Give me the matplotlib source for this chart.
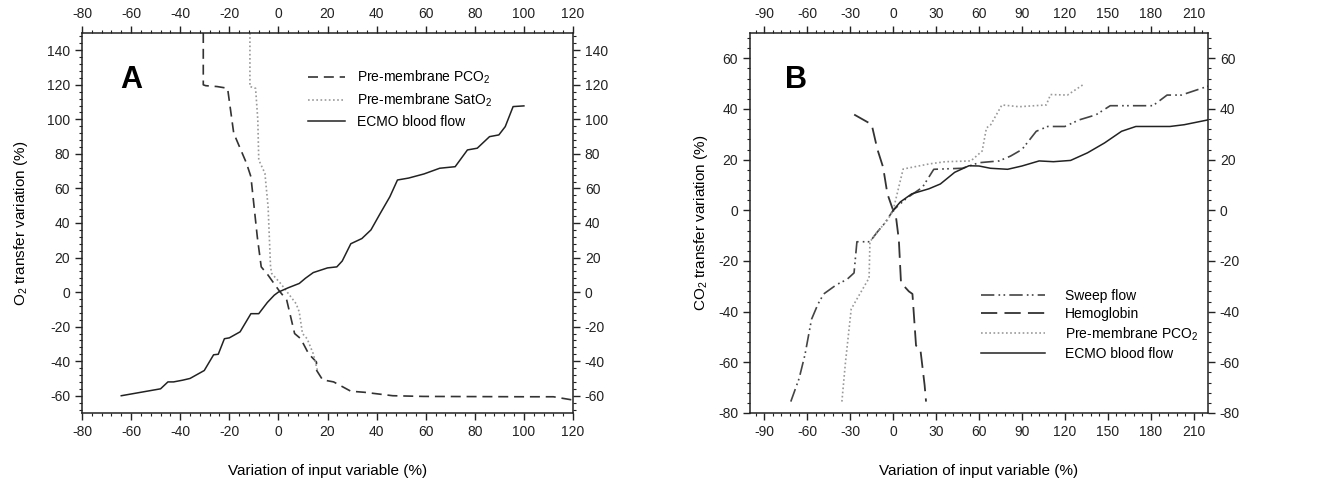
import numpy as np
import matplotlib
matplotlib.use("Agg")
import matplotlib.pyplot as plt
from matplotlib.ticker import MultipleLocator

plt.rcParams['font.family'] = ['Liberation Sans', 'DejaVu Sans']
plt.rcParams['mathtext.default'] = 'regular'
plt.rcParams['axes.unicode_minus'] = False

# ---- panel A : O2 transfer ----
a_pco2_x = [-30.6, -30.6, -29.6, -25, -20.7, -18.2, -13, -11.2, -9.9, -8.6, -7, -4.2, 0.2, 3.4, 4.7,
            6.6, 9.1, 12.3, 15.5, 15.6, 18, 22.5, 29.5, 35, 46.6, 59, 100, 112, 120]
a_pco2_y = [150, 120, 119.5, 119, 118, 92, 74.6, 66.8, 49.4, 32, 14.6, 9.8, 1, -4.7, -12.5,
            -24, -27, -35.7, -40.5, -45.4, -50.8, -52, -57.4, -58, -60, -60.4, -60.6, -60.6, -62.5]

a_sat_x = [-11.6, -11.6, -9.3, -8.4, -8, -5.5, -4.2, -3.2, -2.7, 0.9, 7.2, 8.5, 9.8, 11.7, 14.2, 16]
a_sat_y = [150, 119, 118, 100, 76.5, 68.8, 49.4, 14.6, 10.7, 5, -6.7, -11.5, -24, -27, -35.7, -46]

a_flow_x = [-64, -58, -48, -45, -42.7, -39, -36, -30.2, -26.4, -24.5, -22, -20, -15.6, -11.2, -8,
            -4.5, -1.7, 0, 4, 8.5, 11, 14.2, 20, 23.8, 26, 29.5, 34, 37.7, 41.5, 45.4, 48.5, 53,
            59.3, 65.7, 72, 77, 81, 86, 89.8, 92.4, 95.6, 100]
a_flow_y = [-60, -58.5, -56, -52, -52, -51, -50, -45.4, -36.3, -36, -27, -26.5, -23, -12.5, -12.5,
            -6, -1.8, 0, 2.5, 5, 8, 11.3, 14, 14.6, 18, 28, 31, 36, 45.6, 55.2, 64.9, 66,
            68.4, 71.7, 72.6, 82.3, 83.3, 90, 91, 95.8, 107.4, 107.8]

# ---- panel B : CO2 transfer ----
b_sweep_x = [-71.5, -65.7, -61.6, -57, -52.5, -48.5, -39.4, -32.3, -27.3, -25.3,
             -16.2, -11, -6, 0, 9, 20.5, 28.4, 48.3, 60, 74, 82, 90, 100, 108, 120, 130, 141.7,
             151.7, 173.5, 181.5, 191.4, 201.4, 220]
b_sweep_y = [-75.5, -66.4, -57, -43, -37, -33, -29.3, -27.3, -24.7, -12.4,
             -12.4, -8.5, -5.2, 0, 4.6, 9.1, 16.2, 16.6, 18.8, 19.5, 21.4, 24, 31.2, 33.1, 33.1,
             35.7, 37.7, 41.3, 41.3, 41.3, 45.5, 45.5, 49]

b_hb_x = [-27.2, -15, -11, -7, -4, 0, 2, 4, 5.5, 11, 13.5, 16, 19, 22, 23]
b_hb_y = [37.8, 33.9, 24.1, 17, 6.5, 0, -2.6, -11.7, -28.6, -32, -33, -53.4, -54.7, -69, -75.5]

b_pco2_x = [-35.8, -33.3, -29.3, -25.3, -16.8, -16.2, -11, -4, 0, 7, 25, 36.4, 54.3, 62.2, 65.2, 68.2,
            76, 88, 107, 110, 121.8, 133.8]
b_pco2_y = [-75.5, -60, -39, -35, -26.7, -12.4, -8.5, -3.9, 0, 16.3, 18.3, 19.2, 19.5, 23.4, 32.5,
            33.8, 41.6, 40.9, 41.6, 45.7, 45.5, 50]

b_flow_x = [0, 5, 13, 25, 33, 43, 53, 60, 68, 80, 90, 102, 112, 124, 135.8, 147.7, 159.6, 169.6,
            181.5, 193.4, 203.4, 220]
b_flow_y = [0, 3.3, 6.5, 8.5, 10.4, 15, 17.6, 17.5, 16.6, 16.2, 17.5, 19.5, 19.2, 19.7, 22.7, 26.6,
            31.2, 33.1, 33.1, 33.1, 33.8, 35.7]

fig = plt.figure(figsize=(13.32, 4.84), dpi=100)
axA = fig.add_axes([82 / 1332, 71 / 484, 491 / 1332, 380 / 484])
axB = fig.add_axes([750 / 1332, 71 / 484, 458 / 1332, 380 / 484])


def style_axis(ax):
    for s in ax.spines.values():
        s.set_linewidth(1.1)
        s.set_color('#222222')
    ax.tick_params(which='both', direction='out', top=True, right=True,
                   labeltop=True, labelright=True, labelsize=10, colors='#222222')
    ax.tick_params(which='major', length=5, width=1)
    ax.tick_params(which='minor', length=2.5, width=0.8)


# panel A
axA.plot(a_pco2_x, a_pco2_y, color='#333333', lw=1.2, dashes=(6, 3.5), label='Pre-membrane PCO$_2$')
axA.plot(a_sat_x, a_sat_y, color='#999999', lw=1.2, dashes=(1, 1.5), label='Pre-membrane SatO$_2$')
axA.plot(a_flow_x, a_flow_y, color='#222222', lw=1.1, label='ECMO blood flow')
axA.set_xlim(-80, 120)
axA.set_ylim(-70, 150)
axA.xaxis.set_major_locator(MultipleLocator(20))
axA.xaxis.set_minor_locator(MultipleLocator(4))
axA.yaxis.set_major_locator(MultipleLocator(20))
axA.yaxis.set_minor_locator(MultipleLocator(4))
style_axis(axA)
axA.set_xlabel('Variation of input variable (%)', fontsize=11, labelpad=18)
axA.set_ylabel('O$_2$ transfer variation (%)', fontsize=11, labelpad=12)
axA.text(-60, 123, 'A', fontsize=22, fontweight='bold', ha='center', va='center')
axA.legend(loc='upper left', bbox_to_anchor=(0.447, 0.925), frameon=False, fontsize=10,
           handlelength=2.6, handletextpad=0.9, labelspacing=0.42, borderpad=0)

# panel B
axB.plot(b_sweep_x, b_sweep_y, color='#444444', lw=1.2, dashes=(8, 2.5, 1, 2, 1, 2.5), label='Sweep flow')
axB.plot(b_hb_x, b_hb_y, color='#333333', lw=1.3, dashes=(9, 4), label='Hemoglobin')
axB.plot(b_pco2_x, b_pco2_y, color='#999999', lw=1.2, dashes=(1, 1.5), label='Pre-membrane PCO$_2$')
axB.plot(b_flow_x, b_flow_y, color='#222222', lw=1.1, label='ECMO blood flow')
axB.set_xlim(-100, 220)
axB.set_ylim(-80, 70)
axB.xaxis.set_major_locator(MultipleLocator(30))
axB.xaxis.set_minor_locator(MultipleLocator(6))
axB.yaxis.set_major_locator(MultipleLocator(20))
axB.yaxis.set_minor_locator(MultipleLocator(4))
style_axis(axB)
axB.set_xlabel('Variation of input variable (%)', fontsize=11, labelpad=18)
axB.set_ylabel('CO$_2$ transfer variation (%)', fontsize=11, labelpad=6)
axB.text(-68, 51.5, 'B', fontsize=22, fontweight='bold', ha='center', va='center')
axB.legend(loc='upper left', bbox_to_anchor=(0.49, 0.345), frameon=False, fontsize=10,
           handlelength=4.6, handletextpad=1.4, labelspacing=0.3, borderpad=0)

fig.savefig('out.png', dpi=100)
